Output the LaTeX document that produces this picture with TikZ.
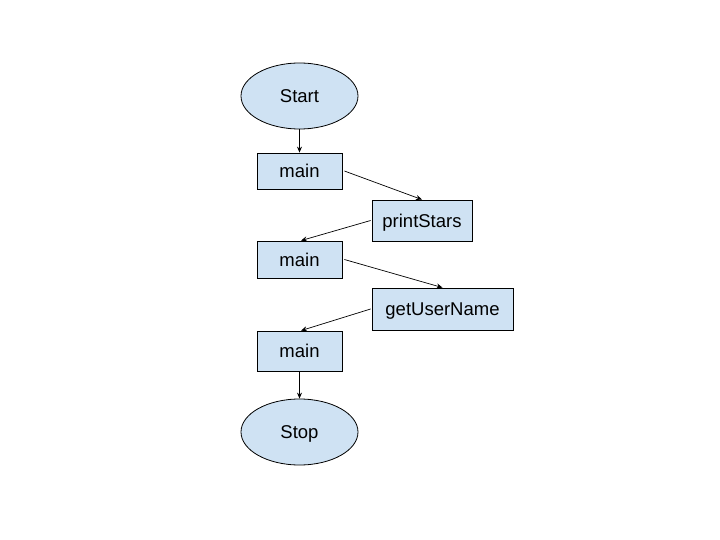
\documentclass[tikz,border=0pt]{standalone}
\usepackage{fontspec}
\setmainfont{Liberation Sans}
\usetikzlibrary{shapes.geometric,arrows.meta}
\definecolor{boxfill}{HTML}{CFE2F3}
\tikzset{
  txt/.style={font=\fontsize{18.5}{20}\selectfont, text height=13.2pt, text depth=0pt},
  proc/.style={txt, draw=black, fill=boxfill, line width=0.8pt, inner sep=0pt},
  term/.style={txt, draw=black, fill=boxfill, ellipse, line width=0.8pt, inner sep=0pt, minimum width=117pt, minimum height=66pt},
  conn/.style={draw=black, line width=0.7pt, -{Stealth[length=6pt,width=5pt]}}
}
\begin{document}
\begin{tikzpicture}[x=1pt,y=-1pt]
\useasboundingbox (0,0) rectangle (720,540);
\node[term] (start) at (299.5,96) {Start};
\node[proc, minimum width=85pt, minimum height=36pt] (m1) at (299.5,171) {main};
\node[proc, minimum width=100pt, minimum height=41pt] (ps) at (422,220.5) {printStars};
\node[proc, minimum width=85pt, minimum height=37pt] (m2) at (299.5,259.5) {main};
\node[proc, minimum width=141pt, minimum height=42pt] (gu) at (442.5,309) {getUserName};
\node[proc, minimum width=85pt, minimum height=40pt] (m3) at (299.5,351) {main};
\node[term] (stop) at (299.5,432) {Stop};
\draw[conn] (start) -- (m1);
\draw[conn] ([xshift=2pt]m1.east) -- (ps.north);
\draw[conn] ([xshift=-1pt]ps.west) -- ([xshift=1.5pt]m2.north);
\draw[conn] ([xshift=2pt]m2.east) -- (gu.north);
\draw[conn] ([xshift=-1pt]gu.west) -- ([xshift=1.5pt]m3.north);
\draw[conn] (m3) -- (stop);
\end{tikzpicture}
\end{document}
